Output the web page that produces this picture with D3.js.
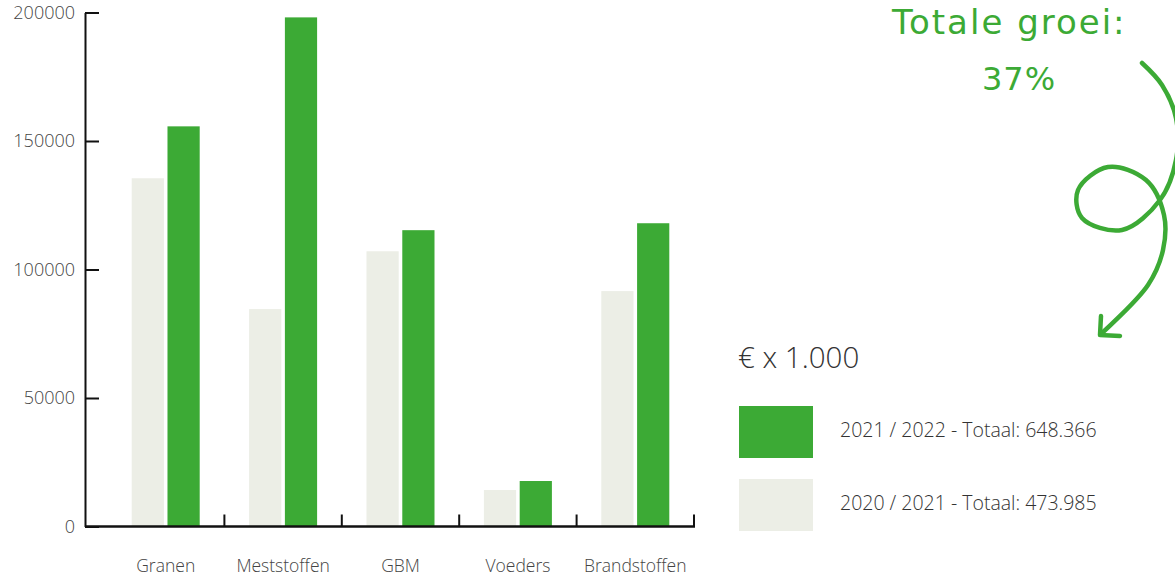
<!DOCTYPE html>
<html>
<head>
<meta charset="utf-8">
<script src="https://cdn.jsdelivr.net/npm/d3@7"></script>
<style>
  body { margin: 0; background: #fff; }
  svg { display: block; font-family: "Open Sans", sans-serif; }
</style>
</head>
<body>
<svg width="1175" height="581"></svg>
<script>
const categories = ["Granen", "Meststoffen", "GBM", "Voeders", "Brandstoffen"];
const series = ["2020 / 2021", "2021 / 2022"];
const values2020 = [135500, 84600, 107100, 14200, 91600];
const values2021 = [155700, 198100, 115300, 17700, 118000];
const yTicks = [0, 50000, 100000, 150000, 200000];
const legendLabels = ["2021 / 2022 - Totaal: 648.366", "2020 / 2021 - Totaal: 473.985"];
const unitLabel = "€ x 1.000";
const growthTitle = "Totale groei:";
const growthValue = "37%";

const green = "#3caa35", light = "#eceee6";
const colors = {"2020 / 2021": light, "2021 / 2022": green};

const svg = d3.select("svg");

const y = d3.scaleLinear().domain([0, 200000]).range([526.5, 12.5]);
const x = d3.scaleBand().domain(categories).range([107, 694]);
const x1 = d3.scaleBand().domain(series).range([-34, 34]).paddingInner(0.1);

let rows = categories.map((c, i) => ({cat: c, vals: [values2020[i], values2021[i]]}));

// bars
const groups = svg.append("g")
  .selectAll("g")
  .data(rows)
  .join("g")
  .attr("transform", d => `translate(${x(d.cat) + x.bandwidth() / 2},0)`);

groups.selectAll("rect")
  .data(d => d.vals.map((v, j) => ({s: series[j], v})))
  .join("rect")
  .attr("x", d => x1(d.s))
  .attr("width", x1.bandwidth())
  .attr("y", d => y(d.v))
  .attr("height", d => y(0) - y(d.v))
  .attr("fill", d => colors[d.s]);

// y axis, ticks pointing inward
const yAxis = svg.append("g")
  .attr("transform", "translate(85,0)")
  .call(d3.axisLeft(y).tickValues(yTicks).tickSizeInner(-14).tickSizeOuter(0).tickPadding(10).tickFormat(d3.format("d")));
yAxis.select(".domain").attr("stroke", "#111").attr("stroke-width", 2);
yAxis.selectAll(".tick line").attr("stroke", "#111").attr("stroke-width", 2);
yAxis.selectAll(".tick text")
  .attr("font-size", 18).attr("font-weight", 300).attr("fill", "#444")
  .attr("font-family", "'Open Sans', sans-serif");

// x axis: labels only, baseline + separators drawn below
const xAxis = svg.append("g")
  .attr("transform", `translate(0,${y(0)})`)
  .call(d3.axisBottom(x).tickSize(0).tickPadding(33));
xAxis.select(".domain").remove();
xAxis.selectAll(".tick text")
  .attr("font-size", 17.5).attr("font-weight", 300).attr("fill", "#444")
  .attr("font-family", "'Open Sans', sans-serif");

svg.append("line")
  .attr("x1", 85).attr("x2", x.range()[1] + 1)
  .attr("y1", y(0)).attr("y2", y(0))
  .attr("stroke", "#111").attr("stroke-width", 2.5);

svg.append("g")
  .selectAll("line")
  .data(categories)
  .join("line")
  .attr("x1", d => x(d) + x.step())
  .attr("x2", d => x(d) + x.step())
  .attr("y1", y(0))
  .attr("y2", y(0) - 12)
  .attr("stroke", "#111").attr("stroke-width", 2);

// legend
const legend = svg.append("g").attr("transform", "translate(738,0)");
legend.append("text")
  .attr("x", 0).attr("y", 368)
  .attr("font-size", 29.5).attr("font-weight", 300).attr("fill", "#333")
  .text(unitLabel);

const legendItems = legend.selectAll("g.item")
  .data([{s: series[1], label: legendLabels[0]}, {s: series[0], label: legendLabels[1]}])
  .join("g")
  .attr("class", "item")
  .attr("transform", (d, i) => `translate(0,${406 + i * 73})`);

legendItems.append("rect")
  .attr("x", 1).attr("width", 74).attr("height", 52)
  .attr("fill", d => colors[d.s]);

legendItems.append("text")
  .attr("x", 102).attr("y", 31)
  .attr("font-size", 19.5).attr("font-weight", 300).attr("fill", "#333")
  .text(d => d.label);

// hand-drawn annotation
const note = svg.append("g").attr("fill", green);
note.append("text")
  .attr("x", 892).attr("y", 34)
  .attr("font-size", 34).attr("letter-spacing", 2)
  .attr("font-family", "'DejaVu Sans', sans-serif")
  .text(growthTitle);
note.append("text")
  .attr("x", 982).attr("y", 90)
  .attr("font-size", 32).attr("letter-spacing", 1)
  .attr("font-family", "'DejaVu Sans', sans-serif")
  .text(growthValue);

const curve = [
  [1142, 63], [1162, 85], [1176, 118], [1176, 160], [1160, 200],
  [1122, 230], [1082, 218], [1078, 190], [1108, 167], [1146, 180],
  [1164, 215], [1163, 250], [1148, 285], [1101, 334]
];
svg.append("path")
  .attr("d", d3.line().curve(d3.curveCatmullRom)(curve))
  .attr("fill", "none").attr("stroke", green)
  .attr("stroke-width", 4.5).attr("stroke-linecap", "round");
svg.append("path")
  .attr("d", d3.line()([[1101, 316], [1100, 335], [1120, 336]]))
  .attr("fill", "none").attr("stroke", green)
  .attr("stroke-width", 4.5).attr("stroke-linecap", "round").attr("stroke-linejoin", "round");
</script>
</body>
</html>
